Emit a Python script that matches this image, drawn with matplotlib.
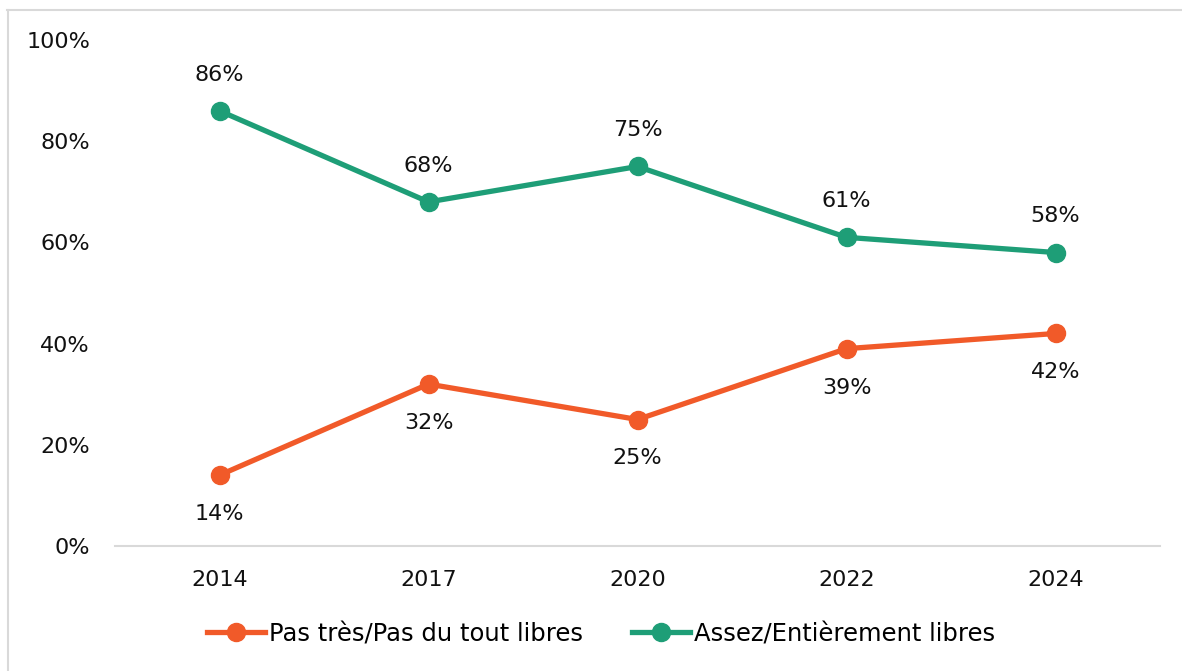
import matplotlib.pyplot as plt
from matplotlib.lines import Line2D

years = ['2014', '2017', '2020', '2022', '2024']
pas_libres = [14, 32, 25, 39, 42]
libres = [86, 68, 75, 61, 58]
yticks = [0, 20, 40, 60, 80, 100]

orange = '#F15A29'
green = '#1E9E77'

plt.rcParams['font.family'] = ['DejaVu Sans']

W, H = 1182, 671
fig = plt.figure(figsize=(W / 100, H / 100), dpi=100)
ax = fig.add_axes([115 / W, (H - 546) / H, (1160 - 115) / W, (546 - 40) / H])

x = list(range(len(years)))
ax.plot(x, pas_libres, color=orange, lw=3.8, marker='o', ms=13, solid_capstyle='round')
ax.plot(x, libres, color=green, lw=3.8, marker='o', ms=13, solid_capstyle='round')

for i, v in enumerate(pas_libres):
    ax.annotate(f'{v}%', (i, v), xytext=(0, -28), textcoords='offset points',
                ha='center', va='center', fontsize=16, color='#111111')
for i, v in enumerate(libres):
    ax.annotate(f'{v}%', (i, v), xytext=(0, 26), textcoords='offset points',
                ha='center', va='center', fontsize=16, color='#111111')

ax.set_xlim(-0.5, len(years) - 0.5)
ax.set_ylim(0, 100)
ax.set_xticks(x)
ax.set_xticklabels(years)
ax.set_yticks(yticks)
ax.set_yticklabels([f'{t}%' for t in yticks])
ax.tick_params(axis='both', length=0, labelsize=16, colors='#111111')
ax.tick_params(axis='x', pad=17)
ax.tick_params(axis='y', pad=18)
for s in ['top', 'right', 'left']:
    ax.spines[s].set_visible(False)
ax.spines['bottom'].set_color('#D9D9D9')
ax.spines['bottom'].set_linewidth(1.5)

handles = [Line2D([], [], color=orange, lw=3.8, marker='o', ms=13),
           Line2D([], [], color=green, lw=3.8, marker='o', ms=13)]
fig.legend(handles, ['Pas très/Pas du tout libres', 'Assez/Entièrement libres'],
           loc='center', bbox_to_anchor=(601 / W, 1 - 634 / H), ncol=2, frameon=False,
           fontsize=17.5, handlelength=2.4, handletextpad=0.15, columnspacing=2.0)

# chart border (top and left visible)
fig.add_artist(Line2D([7 / W, 1], [1 - 10 / H, 1 - 10 / H], color='#D9D9D9', lw=1.5))
fig.add_artist(Line2D([8 / W, 8 / W], [0, 1 - 10 / H], color='#D9D9D9', lw=1.5))

fig.savefig('out.png', dpi=100)
